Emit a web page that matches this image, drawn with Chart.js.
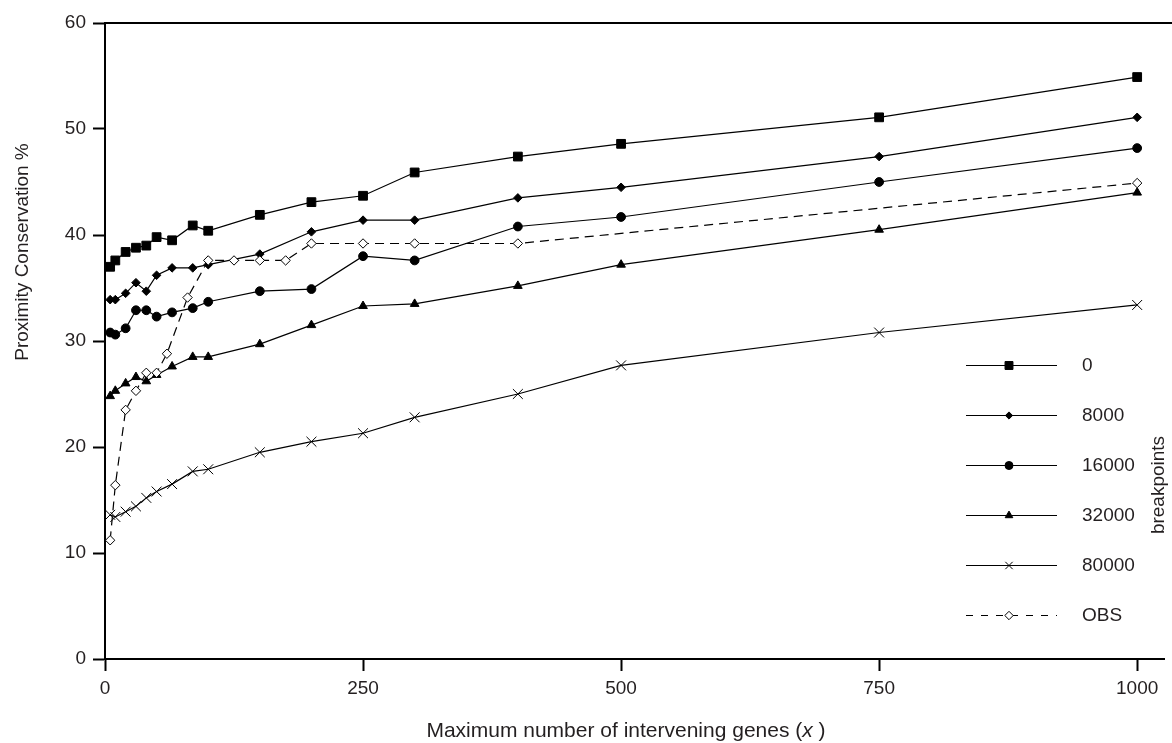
<!DOCTYPE html>
<html><head><meta charset="utf-8">
<script src="https://cdn.jsdelivr.net/npm/chart.js@4/dist/chart.umd.min.js"></script>
<style>html,body{margin:0;padding:0;background:#fff}#wrap{width:1172px;height:743px;position:relative}</style>
</head><body><div id="wrap"><canvas id="c" width="1172" height="743"></canvas></div>
<script>
// ---- data ----
const xSim = [5, 10, 20, 30, 40, 50, 65, 85, 100, 150, 200, 250, 300, 400, 500, 750, 1000];
const bp0     = [37.0, 37.6, 38.4, 38.8, 39.0, 39.8, 39.5, 40.9, 40.4, 41.9, 43.1, 43.7, 45.9, 47.4, 48.6, 51.1, 54.9];
const bp8000  = [33.9, 33.9, 34.5, 35.5, 34.7, 36.2, 36.9, 36.9, 37.2, 38.2, 40.3, 41.4, 41.4, 43.5, 44.5, 47.4, 51.1];
const bp16000 = [30.8, 30.6, 31.2, 32.9, 32.9, 32.3, 32.7, 33.1, 33.7, 34.7, 34.9, 38.0, 37.6, 40.8, 41.7, 45.0, 48.2];
const bp32000 = [24.8, 25.3, 26.0, 26.6, 26.2, 26.8, 27.6, 28.5, 28.5, 29.7, 31.5, 33.3, 33.5, 35.2, 37.2, 40.5, 44.0];
const bp80000 = [13.6, 13.4, 13.9, 14.4, 15.2, 15.8, 16.5, 17.7, 17.9, 19.5, 20.5, 21.3, 22.8, 25.0, 27.7, 30.8, 33.4];
const xObs = [5, 10, 20, 30, 40, 50, 60, 80, 100, 125, 150, 175, 200, 250, 300, 400, 1000];
const obs  = [11.2, 16.4, 23.5, 25.3, 27.0, 27.0, 28.8, 34.1, 37.6, 37.6, 37.6, 37.6, 39.2, 39.2, 39.2, 39.2, 44.9];
const seriesLabels = ['0', '8000', '16000', '32000', '80000', 'OBS'];
const xTickValues = [0, 250, 500, 750, 1000];
const yTickValues = [0, 10, 20, 30, 40, 50, 60];
const xTitle = ['Maximum number of intervening genes (', 'x', ' )'];
const yTitle = 'Proximity Conservation %';
const legendTitle = 'breakpoints';

// ---- styles ----
const FONT = '"Liberation Sans", Arial, Helvetica, sans-serif';
const TXT = '#231f20';
const styles = [
  {shape: 'rect', r: 6.2, fill: '#000', dash: []},
  {shape: 'rectRot', r: 4.3, fill: '#000', dash: []},
  {shape: 'circle', r: 4.4, fill: '#000', dash: []},
  {shape: 'triangle', r: 5.0, fill: '#000', dash: []},
  {shape: 'crossRot', r: 7, fill: '#000', dash: []},
  {shape: 'rectRot', r: 4.7, fill: '#fff', dash: [9, 6]}
];
const xs = [xSim, xSim, xSim, xSim, xSim, xObs];
const ys = [bp0, bp8000, bp16000, bp32000, bp80000, obs];

const datasets = seriesLabels.map((lab, i) => ({
  label: lab,
  data: xs[i].map((x, k) => ({x: x, y: ys[i][k]})),
  borderColor: '#000',
  borderWidth: 1.2,
  borderDash: styles[i].dash,
  pointStyle: styles[i].shape,
  pointRadius: styles[i].r,
  pointBackgroundColor: styles[i].fill,
  pointBorderColor: '#000',
  pointBorderWidth: 1,
  fill: false,
  tension: 0,
  order: i === 5 ? -1 : i,
  clip: false
}));

function marker(ctx, shape, x, y, r, fill) {
  ctx.save();
  ctx.fillStyle = fill; ctx.strokeStyle = '#000'; ctx.lineWidth = 1; ctx.setLineDash([]);
  ctx.beginPath();
  if (shape === 'rect') {
    const s = r * Math.SQRT1_2;
    ctx.rect(x - s, y - s, 2 * s, 2 * s); ctx.fill(); ctx.stroke();
  } else if (shape === 'rectRot') {
    ctx.moveTo(x, y - r); ctx.lineTo(x + r, y); ctx.lineTo(x, y + r); ctx.lineTo(x - r, y); ctx.closePath();
    ctx.fill(); ctx.stroke();
  } else if (shape === 'circle') {
    ctx.arc(x, y, r, 0, Math.PI * 2); ctx.fill(); ctx.stroke();
  } else if (shape === 'triangle') {
    for (let k = 0; k < 3; k++) {
      const a = k * 2 * Math.PI / 3;
      const px = x + Math.sin(a) * r, py = y - Math.cos(a) * r;
      if (k === 0) ctx.moveTo(px, py); else ctx.lineTo(px, py);
    }
    ctx.closePath(); ctx.fill(); ctx.stroke();
  } else if (shape === 'crossRot') {
    const o = r * Math.SQRT1_2;
    ctx.moveTo(x - o, y - o); ctx.lineTo(x + o, y + o);
    ctx.moveTo(x - o, y + o); ctx.lineTo(x + o, y - o); ctx.stroke();
  }
  ctx.restore();
}

const decor = {
  id: 'decor',
  afterDraw(chart) {
    const ctx = chart.ctx, a = chart.chartArea;
    ctx.save();
    // top frame line
    ctx.strokeStyle = '#000'; ctx.lineWidth = 2;
    ctx.beginPath(); ctx.moveTo(a.left - 1, a.top); ctx.lineTo(chart.width, a.top); ctx.stroke();
    // axis titles
    ctx.fillStyle = TXT;
    ctx.textBaseline = 'alphabetic';
    ctx.font = '21px ' + FONT;
    const w0 = ctx.measureText(xTitle[0]).width;
    ctx.font = 'italic 21px ' + FONT;
    const w1 = ctx.measureText(xTitle[1]).width;
    ctx.font = '21px ' + FONT;
    const w2 = ctx.measureText(xTitle[2]).width;
    let tx = 626 - (w0 + w1 + w2) / 2;
    const ty = 737;
    ctx.textAlign = 'left';
    ctx.fillText(xTitle[0], tx, ty);
    ctx.font = 'italic 21px ' + FONT;
    ctx.fillText(xTitle[1], tx + w0, ty);
    ctx.font = '21px ' + FONT;
    ctx.fillText(xTitle[2], tx + w0 + w1, ty);

    ctx.save();
    ctx.translate(28, 252);
    ctx.rotate(-Math.PI / 2);
    ctx.font = '19px ' + FONT;
    ctx.textAlign = 'center';
    ctx.fillText(yTitle, 0, 0);
    ctx.restore();

    // legend
    const rows = [365.5, 415.5, 465.5, 515.5, 565.5, 615.5];
    const lx0 = 966, lx1 = 1057, mx = 1009;
    seriesLabels.forEach((lab, i) => {
      const y = rows[i];
      ctx.strokeStyle = '#000'; ctx.lineWidth = 1.2;
      ctx.setLineDash(i === 5 ? [7, 8] : []);
      ctx.beginPath(); ctx.moveTo(lx0, y); ctx.lineTo(lx1, y); ctx.stroke();
      ctx.setLineDash([]);
      const st = styles[i];
      const rr = [5.6, 3.6, 4.0, 4.4, 5.2, 4.2][i];
      marker(ctx, st.shape, mx, y, rr, st.fill);
      ctx.fillStyle = TXT;
      ctx.font = '19px ' + FONT;
      ctx.textAlign = 'left'; ctx.textBaseline = 'middle';
      ctx.fillText(lab, 1082, y + 0.5);
    });
    ctx.save();
    ctx.translate(1159, 485);
    ctx.rotate(-Math.PI / 2);
    ctx.font = '19px ' + FONT;
    ctx.textAlign = 'center'; ctx.textBaseline = 'middle';
    ctx.fillStyle = TXT;
    ctx.fillText(legendTitle, 0, 0);
    ctx.restore();
    ctx.restore();
  }
};

new Chart(document.getElementById('c'), {
  type: 'line',
  data: {datasets: datasets},
  options: {
    responsive: false,
    animation: false,
    devicePixelRatio: 1,
    layout: {padding: {top: 23, right: 0, left: 0, bottom: 0}},
    plugins: {legend: {display: false}, tooltip: {enabled: false}},
    elements: {line: {borderJoinStyle: 'miter'}},
    scales: {
      x: {
        type: 'linear', min: 0, max: 1026,
        afterBuildTicks: s => { s.ticks = xTickValues.map(v => ({value: v})); },
        afterFit: s => { s.height = 84; },
        grid: {display: true, drawOnChartArea: false, drawTicks: true, tickLength: 12, tickWidth: 2, tickColor: '#000'},
        border: {display: true, color: '#000', width: 2},
        ticks: {font: {family: FONT, size: 19}, color: TXT, padding: 6, maxRotation: 0, autoSkip: false,
                callback: v => String(v)}
      },
      y: {
        type: 'linear', min: 0, max: 60,
        afterBuildTicks: s => { s.ticks = yTickValues.map(v => ({value: v})); },
        afterFit: s => { s.width = 105; },
        grid: {display: true, drawOnChartArea: false, drawTicks: true, tickLength: 12, tickWidth: 2, tickColor: '#000'},
        border: {display: true, color: '#000', width: 2},
        ticks: {font: {family: FONT, size: 19}, color: TXT, padding: 7, autoSkip: false,
                callback: v => String(v)}
      }
    }
  },
  plugins: [decor]
});
</script>
</body></html>
